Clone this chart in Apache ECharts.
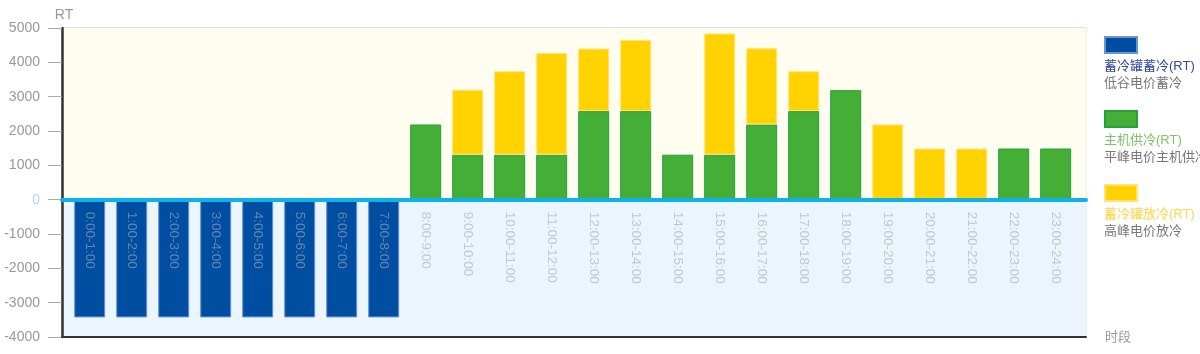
<!DOCTYPE html>
<html>
<head>
<meta charset="utf-8">
<script src="https://cdn.jsdelivr.net/npm/echarts@6/dist/echarts.min.js"></script>
<style>
html, body { margin: 0; padding: 0; background: #fff; }
#main { width: 1200px; height: 354px; }
</style>
</head>
<body>
<div id="main"></div>
<script>
var hours = ['0:00-1:00', '1:00-2:00', '2:00-3:00', '3:00-4:00', '4:00-5:00', '5:00-6:00',
    '6:00-7:00', '7:00-8:00', '8:00-9:00', '9:00-10:00', '10:00-11:00', '11:00-12:00',
    '12:00-13:00', '13:00-14:00', '14:00-15:00', '15:00-16:00', '16:00-17:00', '17:00-18:00',
    '18:00-19:00', '19:00-20:00', '20:00-21:00', '21:00-22:00', '22:00-23:00', '23:00-24:00'];

// 蓄冷罐蓄冷 (负值)
var tank_charge = [-3430, -3430, -3430, -3430, -3430, -3430, -3430, -3430,
    null, null, null, null, null, null, null, null, null, null, null, null, null, null, null, null];
// 主机供冷
var chiller_supply = [null, null, null, null, null, null, null, null,
    2190, 1310, 1310, 1310, 2580, 2580, 1310, 1310, 2190, 2580, 3190, null, null, null, 1490, 1490];
// 蓄冷罐放冷
var tank_release = [null, null, null, null, null, null, null, null,
    null, 1890, 2430, 2960, 1820, 2070, null, 3530, 2220, 1160, null, 2190, 1490, 1490, null, null];

var y_ticks = [-4000, 5000, 1000]; // min, max, interval
var legend_names = ['蓄冷罐蓄冷(RT)', '主机供冷(RT)', '蓄冷罐放冷(RT)'];
var legend_notes = ['低谷电价蓄冷', '平峰电价主机供冷', '高峰电价放冷'];
var legend_title_colors = ['#34479a', '#7dc466', '#ffd54a'];

var font = 'Liberation Sans, Noto Sans CJK SC, sans-serif';

// grid geometry (px)
var grid_top = 28, grid_bottom = 17, chart_h = 354;
// distance from grid bottom to the zero line, so the hour labels sit under it
var zero_offset = (chart_h - grid_top - grid_bottom) * (0 - y_ticks[0]) / (y_ticks[1] - y_ticks[0]);

var chart = echarts.init(document.getElementById('main'));

var legends = [];
var texts = [];
for (var i = 0; i < legend_names.length; i++) {
    legends.push({
        data: [legend_names[i]],
        left: 1104,
        top: 36 + 74 * i,
        padding: 0,
        icon: 'rect',
        itemWidth: 32,
        itemHeight: 16,
        selectedMode: false,
        formatter: function () { return ''; }
    });
    texts.push({
        type: 'text', left: 1104, top: 60 + 74 * i,
        style: { text: legend_names[i], fill: legend_title_colors[i], font: '13px ' + font }
    });
    texts.push({
        type: 'text', left: 1104, top: 77 + 74 * i,
        style: { text: legend_notes[i], fill: '#777', font: '13px ' + font }
    });
}

var option = {
    animation: false,
    textStyle: { fontFamily: font },
    legend: legends,
    graphic: texts,
    grid: [
        // background grid
        { left: 62, right: 114, top: grid_top, bottom: grid_bottom, show: true, borderColor: '#ddd', borderWidth: 1,
          containLabel: false, outerBoundsMode: 'none' },
        // bar grid
        { left: 68.7, right: 123.3, top: grid_top, bottom: grid_bottom, containLabel: false, outerBoundsMode: 'none' }
    ],
    xAxis: [
        {
            gridIndex: 0, type: 'value', min: 0, max: 1, position: 'bottom',
            axisLine: { onZero: false, lineStyle: { color: '#333', width: 2 } },
            axisTick: { show: false }, axisLabel: { show: false }, splitLine: { show: false },
            name: '时段', nameLocation: 'end', nameGap: 19,
            nameTextStyle: { color: '#999', fontSize: 13 },
            z: 3
        },
        {
            gridIndex: 0, type: 'value', min: 0, max: 1, position: 'top',
            axisLine: { onZero: true, lineStyle: { color: '#0cb2ea', width: 4 } },
            axisTick: { show: false }, axisLabel: { show: false }, splitLine: { show: false },
            z: 4
        },
        {
            gridIndex: 1, type: 'category', data: hours, position: 'bottom',
            offset: -zero_offset,
            axisLine: { show: false, onZero: false },
            axisTick: { show: false },
            axisLabel: {
                rotate: -90, margin: 12, fontSize: 13.5, interval: 0,
                color: 'rgba(165,170,180,0.6)'
            },
            z: 5
        }
    ],
    yAxis: [
        {
            gridIndex: 0, type: 'value', min: y_ticks[0], max: y_ticks[1], interval: y_ticks[2],
            axisLine: { show: true, lineStyle: { color: '#333', width: 2.5 } },
            axisTick: { show: true, length: 14, lineStyle: { color: '#aaa' } },
            axisLabel: {
                margin: 22, fontSize: 14,
                formatter: function (v) { return String(v); },
                color: function (v) { return v == 0 ? '#a6d8f3' : '#999'; }
            },
            splitLine: { lineStyle: { color: '#dedede', width: 1.5 } },
            name: 'RT', nameGap: 6,
            nameTextStyle: { color: '#999', fontSize: 14, padding: [0, 0, 0, 4] },
            z: 1
        },
        {
            gridIndex: 1, type: 'value', min: y_ticks[0], max: y_ticks[1], interval: y_ticks[2],
            axisLine: { show: false }, axisTick: { show: false }, axisLabel: { show: false },
            splitLine: { show: false }
        }
    ],
    series: [
        {
            type: 'line', xAxisIndex: 0, yAxisIndex: 0, data: [], z: 0, silent: true,
            markArea: {
                silent: true,
                data: [
                    [{ yAxis: 0, itemStyle: { color: '#fffdef' } }, { yAxis: y_ticks[1] }],
                    [{ yAxis: y_ticks[0], itemStyle: { color: '#eaf5fd' } }, { yAxis: 0 }]
                ]
            }
        },
        {
            name: legend_names[0], type: 'bar', xAxisIndex: 2, yAxisIndex: 1, stack: 'total',
            barWidth: 31, data: tank_charge,
            itemStyle: { color: '#004ea2', borderColor: '#6a95d2', borderWidth: 1 }
        },
        {
            name: legend_names[1], type: 'bar', xAxisIndex: 2, yAxisIndex: 1, stack: 'total',
            barWidth: 31, data: chiller_supply,
            itemStyle: { color: '#44ae36', borderColor: '#22a23c', borderWidth: 1 }
        },
        {
            name: legend_names[2], type: 'bar', xAxisIndex: 2, yAxisIndex: 1, stack: 'total',
            barWidth: 31, data: tank_release,
            itemStyle: { color: '#ffd200', borderColor: '#ffe27a', borderWidth: 1 }
        }
    ]
};

chart.setOption(option);
</script>
</body>
</html>
